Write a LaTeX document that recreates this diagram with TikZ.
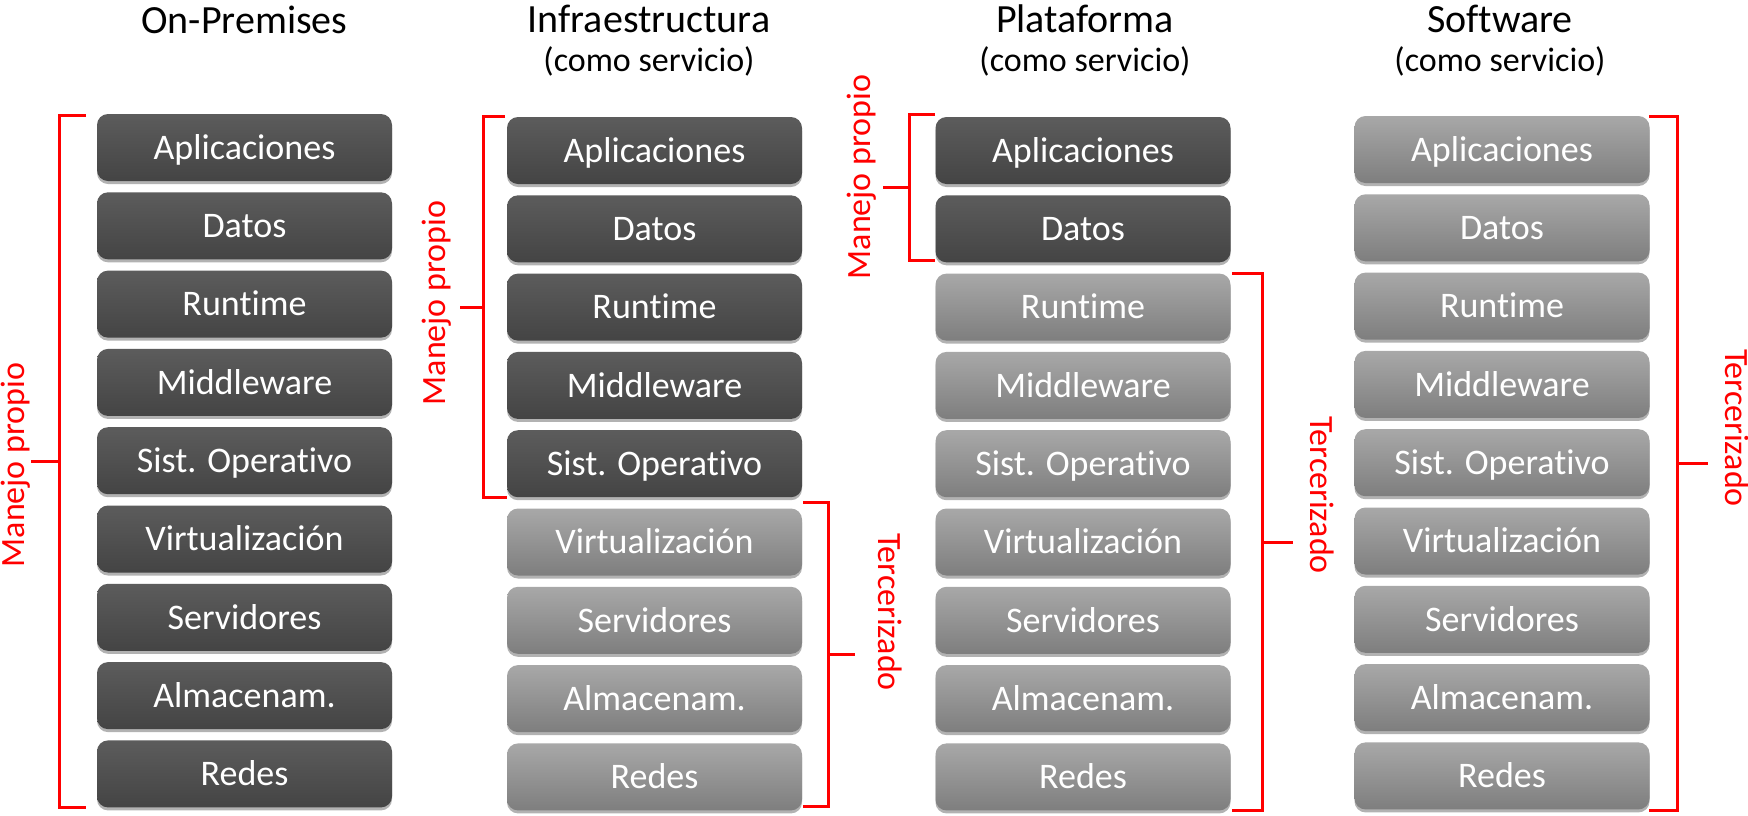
\documentclass[tikz,border=0pt]{standalone}
\usepackage{fontspec}
\setmainfont{Carlito}[Ligatures={NoCommon,NoRequired,NoContextual}]
\usetikzlibrary{shadows,calc}
\definecolor{dkT}{HTML}{5C5C5C}
\definecolor{dkB}{HTML}{444444}
\definecolor{ltT}{HTML}{A8A8A8}
\definecolor{ltB}{HTML}{7E7E7E}
\definecolor{brred}{HTML}{FF0000}
\newcommand\boxstack[4]{%
  \foreach \lab [count=\i] in {Aplicaciones,Datos,Runtime,Middleware,Sist. Operativo,Virtualización,Servidores,Almacenam.,Redes}{%
    \pgfmathsetmacro\yy{#3+33.5+(\i-1)*78.3}%
    \ifnum\i>#4\relax\def\st{light}\else\def\st{dark}\fi
    \node[\st] (#1\i) at (#2,\yy) {\lab};
  }%
}
\begin{document}
\begin{tikzpicture}[x=1pt,y=-1pt,
  box/.style={rounded corners=11pt, minimum width=295pt, minimum height=67pt,
    inner sep=0pt, text=white, font=\fontsize{36}{40}\selectfont,
    text height=23.5pt, text depth=0pt,
    drop shadow={shadow xshift=0pt, shadow yshift=-3pt, opacity=0.3, fill=black}},
  dark/.style={box, top color=dkT, bottom color=dkB},
  light/.style={box, top color=ltT, bottom color=ltB},
  br/.style={draw=brred, line width=3pt},
  brlab/.style={text=brred, font=\fontsize{34}{40}\selectfont, inner sep=0pt},
  title/.style={font=\fontsize{40}{44}\selectfont, anchor=base, inner sep=0pt},
  sub/.style={font=\fontsize{34}{40}\selectfont, anchor=base, inner sep=0pt}]
\useasboundingbox[fill=white] (0,0) rectangle (1748,815);

% titles
\node[title] (t1) at (244.5,33) {On-Premises};
\node[title] (t2) at (649,32) {Infraestructura};
\node[sub]   (s2) at (649,71) {(como servicio)};
\node[title] (t3) at (1085,32) {Plataforma};
\node[sub]   (s3) at (1085,71) {(como servicio)};
\node[title] (t4) at (1500,32) {Software};
\node[sub]   (s4) at (1500,71) {(como servicio)};

% stacks
\boxstack{a}{244.5}{114}{9}
\boxstack{b}{654.5}{117}{5}
\boxstack{c}{1083}{117}{2}
\boxstack{d}{1502}{116}{0}

% On-Premises: Manejo propio
\draw[br] (86,115) -- (59,115) -- (59,807) -- (86,807);
\draw[br] (59,461) -- (31,461);
\node[brlab, rotate=90] (l1) at (16,465) {Manejo propio};

% IaaS
\draw[br] (505,116) -- (483,116) -- (483,497) -- (507,497);
\draw[br] (483,307) -- (460,307);
\node[brlab, rotate=90] (l2) at (437,303) {Manejo propio};
\draw[br] (803,502) -- (828,502) -- (828,806) -- (803,806);
\draw[br] (828,654) -- (855,654);
\node[brlab, rotate=-90] (r2) at (890,612) {Tercerizado};

% PaaS
\draw[br] (935,114) -- (909,114) -- (909,260) -- (935,260);
\draw[br] (909,187) -- (883,187);
\node[brlab, rotate=90] (l3) at (862,177) {Manejo propio};
\draw[br] (1232,273) -- (1262,273) -- (1262,810) -- (1232,810);
\draw[br] (1262,542) -- (1293,542);
\node[brlab, rotate=-90] (r3) at (1322,495) {Tercerizado};

% SaaS
\draw[br] (1649,116) -- (1677,116) -- (1677,810) -- (1649,810);
\draw[br] (1677,463) -- (1708,463);
\node[brlab, rotate=-90] (r4) at (1737,428) {Tercerizado};
\end{tikzpicture}
\end{document}
